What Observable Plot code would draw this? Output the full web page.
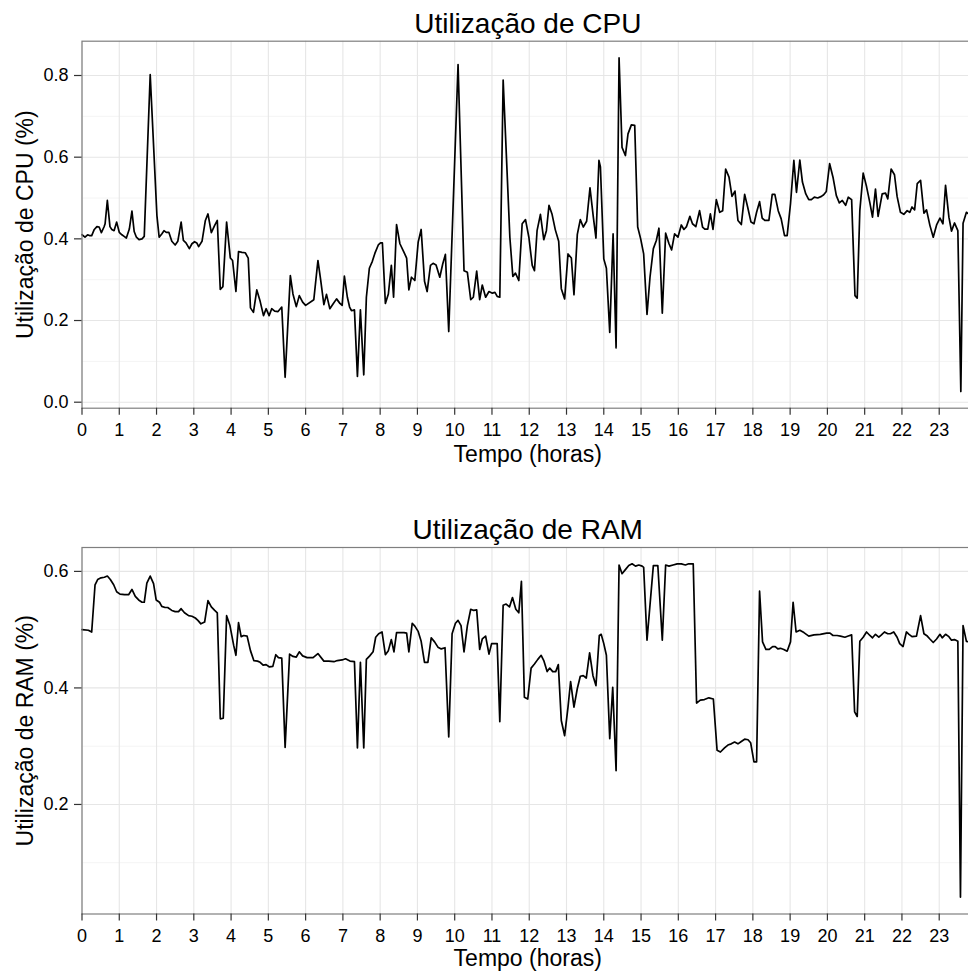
<!DOCTYPE html>
<html>
<head>
<meta charset="utf-8">
<script src="https://cdn.jsdelivr.net/npm/d3@7"></script>
<script src="https://cdn.jsdelivr.net/npm/@observablehq/plot@0.6"></script>
<style>
html, body { margin: 0; padding: 0; background: #fff; overflow: hidden; }
#chart svg { display: block; }
</style>
</head>
<body>
<div id="chart"></div>
<script>
// ---- Data ----
const hourTicks = [0,1,2,3,4,5,6,7,8,9,10,11,12,13,14,15,16,17,18,19,20,21,22,23];

const cpuTitle = "Utilização de CPU";
const cpuYLabel = "Utilização de CPU (%)";
const cpuYTicks = [0.0, 0.2, 0.4, 0.6, 0.8];
const cpuYMinor = [0.1, 0.3, 0.5, 0.7];
const cpuHours = [0,0.08,0.15,0.2,0.26,0.33,0.4,0.46,0.52,0.59,0.62,0.68,0.75,0.8,0.86,0.93,1.0,1.07,1.13,1.19,1.27,1.34,1.4,1.46,1.53,1.61,1.67,1.83,2.01,2.07,2.14,2.2,2.26,2.33,2.41,2.5,2.57,2.66,2.72,2.79,2.88,2.95,3.02,3.08,3.13,3.22,3.31,3.38,3.47,3.56,3.63,3.71,3.78,3.88,3.98,4.04,4.13,4.2,4.29,4.38,4.46,4.52,4.6,4.69,4.78,4.87,4.94,5.02,5.09,5.17,5.26,5.36,5.45,5.59,5.66,5.75,5.83,5.92,6.0,
6.22,6.33,6.4,6.49,6.56,6.65,6.74,6.83,6.92,6.98,7.04,7.12,7.18,7.23,7.31,7.39,7.47,7.56,7.63,7.71,7.79,7.86,7.95,8.01,8.06,8.14,8.22,8.3,8.36,8.44,8.53,8.64,8.71,8.77,8.84,8.93,9.02,9.1,9.19,9.26,9.35,9.42,9.5,9.6,9.68,9.75,9.84,10.09,10.25,10.34,10.43,10.5,10.59,10.67,10.74,10.83,10.92,11.01,11.08,11.14,11.21,11.3,11.48,11.56,11.63,11.72,
11.81,11.9,11.99,12.08,12.14,12.21,12.3,12.39,12.46,12.53,12.61,12.7,12.79,12.86,12.95,13.04,13.13,13.2,13.29,13.37,13.45,13.54,13.63,13.72,13.79,13.87,13.91,14.0,14.07,14.16,14.25,14.33,14.41,14.49,14.58,14.65,14.74,14.83,14.91,14.99,15.07,15.16,15.24,15.33,15.41,15.48,15.57,15.66,15.75,15.82,15.9,15.99,16.08,16.15,16.22,16.31,16.38,16.47,16.57,16.65,16.71,16.79,16.86,16.93,17.02,17.11,17.19,17.27,17.36,17.44,17.52,17.6,17.69,
17.78,17.86,17.95,18.03,18.1,18.18,18.25,18.32,18.43,18.52,18.59,18.68,18.76,18.85,18.92,19.01,19.1,19.17,19.26,19.33,19.42,19.5,19.57,19.65,19.74,19.84,19.9,19.97,20.06,20.15,20.24,20.32,20.4,20.49,20.56,20.65,20.74,20.8,20.87,20.96,21.05,21.14,21.21,21.29,21.36,21.47,21.56,21.62,21.71,21.8,21.87,21.96,22.05,22.14,22.21,22.27,22.34,22.41,22.5,22.59,22.66,22.75,22.84,22.93,23.02,23.1,23.17,23.26,23.33,23.41,23.5,23.58,23.64,23.73,23.79,23.88];
const cpuValues = [0.41,0.404,0.41,0.408,0.408,0.423,0.43,0.429,0.415,0.429,0.437,0.494,0.43,0.423,0.42,0.441,0.416,0.41,0.406,0.402,0.424,0.468,0.418,0.404,0.398,0.4,0.406,0.802,0.457,0.404,0.412,0.42,0.416,0.416,0.394,0.385,0.394,0.441,0.396,0.39,0.376,0.388,0.393,0.39,0.381,0.394,0.445,0.461,0.415,0.433,0.445,0.276,0.283,0.441,0.353,0.347,0.271,0.369,0.367,0.366,0.353,0.231,0.22,0.275,0.247,0.212,0.229,0.212,0.229,0.223,0.222,0.233,0.061,0.31,0.265,0.234,0.261,0.245,0.237,
0.251,0.347,0.302,0.239,0.264,0.229,0.241,0.253,0.242,0.237,0.309,0.257,0.233,0.224,0.226,0.063,0.226,0.067,0.257,0.328,0.345,0.365,0.385,0.39,0.39,0.242,0.265,0.335,0.257,0.435,0.388,0.367,0.353,0.275,0.306,0.298,0.392,0.423,0.296,0.271,0.335,0.34,0.336,0.306,0.339,0.362,0.173,0.827,0.322,0.318,0.251,0.257,0.321,0.251,0.287,0.257,0.271,0.267,0.269,0.259,0.257,0.789,0.404,0.308,0.316,0.298,
0.437,0.447,0.404,0.335,0.322,0.42,0.46,0.398,0.42,0.482,0.461,0.422,0.394,0.278,0.253,0.363,0.353,0.263,0.411,0.447,0.429,0.443,0.525,0.453,0.402,0.592,0.576,0.351,0.328,0.171,0.412,0.133,0.843,0.624,0.604,0.657,0.679,0.678,0.429,0.4,0.363,0.215,0.306,0.376,0.396,0.426,0.218,0.414,0.388,0.373,0.412,0.404,0.434,0.423,0.43,0.455,0.437,0.43,0.469,0.429,0.424,0.424,0.461,0.423,0.496,0.465,0.469,0.571,0.551,0.504,0.517,0.445,0.435,
0.509,0.478,0.441,0.437,0.465,0.491,0.451,0.445,0.445,0.509,0.509,0.469,0.449,0.408,0.408,0.486,0.592,0.514,0.593,0.539,0.51,0.496,0.496,0.502,0.5,0.504,0.508,0.516,0.584,0.551,0.506,0.488,0.494,0.482,0.502,0.496,0.261,0.255,0.469,0.561,0.528,0.488,0.453,0.522,0.455,0.51,0.512,0.498,0.571,0.557,0.504,0.465,0.46,0.469,0.465,0.478,0.471,0.535,0.543,0.463,0.471,0.433,0.404,0.434,0.451,0.437,0.531,0.453,0.419,0.439,0.42,0.026,0.438,0.465,0.461,0.455];

const ramTitle = "Utilização de RAM";
const ramYLabel = "Utilização de RAM (%)";
const ramYTicks = [0.2, 0.4, 0.6];
const ramYMinor = [0.1, 0.3, 0.5];
const ramHours = [0,0.17,0.26,0.35,0.42,0.51,0.6,0.68,0.76,0.85,0.93,1.02,1.14,1.25,1.34,1.43,1.52,1.61,1.67,1.74,1.83,1.92,1.99,2.08,2.14,2.23,2.3,2.41,2.5,2.59,2.66,2.75,2.86,2.95,3.04,3.11,3.19,3.29,3.38,3.47,3.56,3.63,3.71,3.79,3.88,3.97,4.07,4.13,4.2,4.27,4.34,4.43,4.52,4.61,4.71,4.78,4.86,4.94,5.03,5.12,5.2,5.27,5.36,5.45,5.57,5.66,5.75,5.83,5.92,
6.04,6.2,6.33,6.49,6.62,6.76,6.85,6.98,7.07,7.19,7.31,7.39,7.47,7.56,7.63,7.72,7.81,7.88,7.96,8.05,8.14,8.22,8.3,8.37,8.44,8.55,8.64,8.71,8.77,8.86,8.93,9.02,9.1,9.19,9.28,9.37,9.46,9.55,9.64,9.74,9.84,9.93,10.02,10.09,10.17,10.25,10.34,10.43,10.51,10.59,10.67,10.74,10.83,10.92,10.99,11.07,11.14,11.21,11.3,11.38,11.47,11.55,11.64,11.72,11.79,11.87,11.96,
12.05,12.14,12.23,12.32,12.39,12.48,12.55,12.63,12.71,12.78,12.86,12.95,13.04,13.11,13.2,13.29,13.37,13.45,13.53,13.62,13.71,13.79,13.88,13.93,14.0,14.07,14.16,14.24,14.33,14.41,14.49,14.58,14.67,14.76,14.85,14.94,15.03,15.07,15.16,15.33,15.45,15.57,15.66,15.75,15.86,15.97,16.08,16.19,16.28,16.4,16.49,16.59,16.7,16.82,16.94,17.04,17.13,17.24,17.33,17.42,17.51,17.6,17.69,17.78,17.87,17.94,
18.03,18.1,18.18,18.26,18.35,18.44,18.53,18.6,18.67,18.74,18.83,18.92,19.01,19.08,19.16,19.26,19.37,19.5,19.64,19.81,19.98,20.07,20.15,20.26,20.35,20.47,20.56,20.65,20.73,20.8,20.87,20.96,21.05,21.14,21.21,21.29,21.38,21.45,21.53,21.62,21.69,21.78,21.87,21.94,22.03,22.12,22.19,22.27,22.39,22.5,22.59,22.68,22.75,22.84,22.93,23.02,23.08,23.17,23.26,23.33,23.41,23.5,23.57,23.64,23.73,23.79,23.88];
const ramValues = [0.5,0.499,0.496,0.577,0.586,0.589,0.59,0.592,0.586,0.577,0.565,0.561,0.56,0.56,0.569,0.557,0.551,0.547,0.547,0.58,0.592,0.579,0.551,0.547,0.54,0.538,0.538,0.533,0.531,0.531,0.536,0.529,0.524,0.523,0.52,0.516,0.51,0.513,0.55,0.539,0.533,0.529,0.347,0.348,0.524,0.507,0.473,0.456,0.512,0.488,0.49,0.489,0.464,0.447,0.446,0.444,0.439,0.44,0.436,0.437,0.457,0.452,0.451,0.298,0.458,0.454,0.453,0.462,0.455,
0.452,0.452,0.459,0.446,0.446,0.445,0.447,0.448,0.45,0.446,0.445,0.297,0.444,0.297,0.449,0.455,0.462,0.487,0.493,0.496,0.457,0.464,0.483,0.462,0.495,0.495,0.495,0.494,0.462,0.511,0.506,0.497,0.48,0.444,0.444,0.486,0.479,0.47,0.467,0.469,0.316,0.493,0.511,0.516,0.507,0.462,0.507,0.535,0.533,0.534,0.466,0.484,0.489,0.458,0.476,0.476,0.476,0.342,0.542,0.544,0.539,0.555,0.535,0.529,0.583,0.384,0.381,
0.434,0.441,0.449,0.456,0.447,0.428,0.434,0.428,0.428,0.44,0.344,0.318,0.367,0.411,0.367,0.399,0.42,0.421,0.417,0.46,0.421,0.404,0.49,0.492,0.476,0.456,0.313,0.401,0.258,0.611,0.596,0.603,0.61,0.613,0.609,0.611,0.609,0.607,0.482,0.61,0.61,0.482,0.611,0.609,0.611,0.613,0.613,0.611,0.613,0.613,0.374,0.379,0.38,0.383,0.381,0.293,0.29,0.297,0.302,0.304,0.307,0.304,0.308,0.312,0.311,0.306,
0.273,0.273,0.566,0.479,0.466,0.466,0.471,0.471,0.467,0.468,0.466,0.463,0.479,0.547,0.496,0.499,0.495,0.489,0.491,0.492,0.494,0.494,0.49,0.49,0.489,0.487,0.489,0.491,0.359,0.351,0.48,0.487,0.496,0.49,0.486,0.492,0.487,0.491,0.496,0.493,0.493,0.496,0.487,0.476,0.471,0.496,0.492,0.488,0.489,0.524,0.493,0.489,0.484,0.478,0.484,0.492,0.486,0.492,0.488,0.482,0.483,0.48,0.041,0.507,0.48,0.479,0.477];

const xLabel = "Tempo (horas)";

// ---- Drawing ----
const FONT = "'Liberation Sans', Arial, Helvetica, sans-serif";

function panel(o) {
  const data = o.hours.map((h, i) => ({h, v: o.values[i]}));
  return Plot.plot({
    width: 968,
    height: 488,
    marginLeft: 81.5,
    marginRight: -5,
    marginTop: o.marginTop,
    marginBottom: o.marginBottom,
    style: {fontFamily: FONT, background: "white", overflow: "hidden", color: "black"},
    x: {domain: [0, 23.92]},
    y: {domain: o.yDomain},
    marks: [
      Plot.gridY({ticks: o.yMinor, stroke: "#f4f4f4", strokeOpacity: 1, strokeWidth: 1}),
      Plot.gridY({ticks: o.yTicks, stroke: "#e6e6e6", strokeOpacity: 1, strokeWidth: 1.1}),
      Plot.gridX({ticks: hourTicks, stroke: "#e6e6e6", strokeOpacity: 1, strokeWidth: 1.1}),
      Plot.line(data, {x: "h", y: "v", stroke: "black", strokeWidth: 1.7}),
      Plot.frame({stroke: "#7f7f7f", strokeWidth: 1.2}),
      Plot.axisX({ticks: hourTicks, tickFormat: d => String(d), tickSize: 7, tickPadding: 8.5,
                  fontSize: 18, label: null, stroke: "#333", fill: "black", strokeWidth: 1.2}),
      Plot.axisY({ticks: o.yTicks, tickFormat: d3.format(".1f"), tickSize: 7.5, tickPadding: 6,
                  fontSize: 18, label: null, stroke: "#333", fill: "black", strokeWidth: 1.2}),
      Plot.text([o.title], {text: d => d, frameAnchor: "top", lineAnchor: "middle", textAnchor: "middle",
                  dy: -17, fontSize: 28, fill: "black"}),
      Plot.text([xLabel], {text: d => d, frameAnchor: "bottom", lineAnchor: "middle", textAnchor: "middle",
                  dy: o.xTitleDy, fontSize: 23, fill: "black"}),
      Plot.text([o.yLabel], {text: d => d, frameAnchor: "left", lineAnchor: "middle", textAnchor: "middle",
                  dx: -56, rotate: -90, fontSize: 23, fill: "black"})
    ]
  });
}

const chart = document.getElementById("chart");
chart.append(panel({
  title: cpuTitle, yLabel: cpuYLabel, hours: cpuHours, values: cpuValues,
  yDomain: [-0.0147, 0.884], yTicks: cpuYTicks, yMinor: cpuYMinor,
  marginTop: 40.7, marginBottom: 80.3, xTitleDy: 46.6
}));
chart.append(panel({
  title: ramTitle, yLabel: ramYLabel, hours: ramHours, values: ramValues,
  yDomain: [0.012, 0.641], yTicks: ramYTicks, yMinor: ramYMinor,
  marginTop: 59, marginBottom: 62.5, xTitleDy: 44.8
}));
</script>
</body>
</html>
